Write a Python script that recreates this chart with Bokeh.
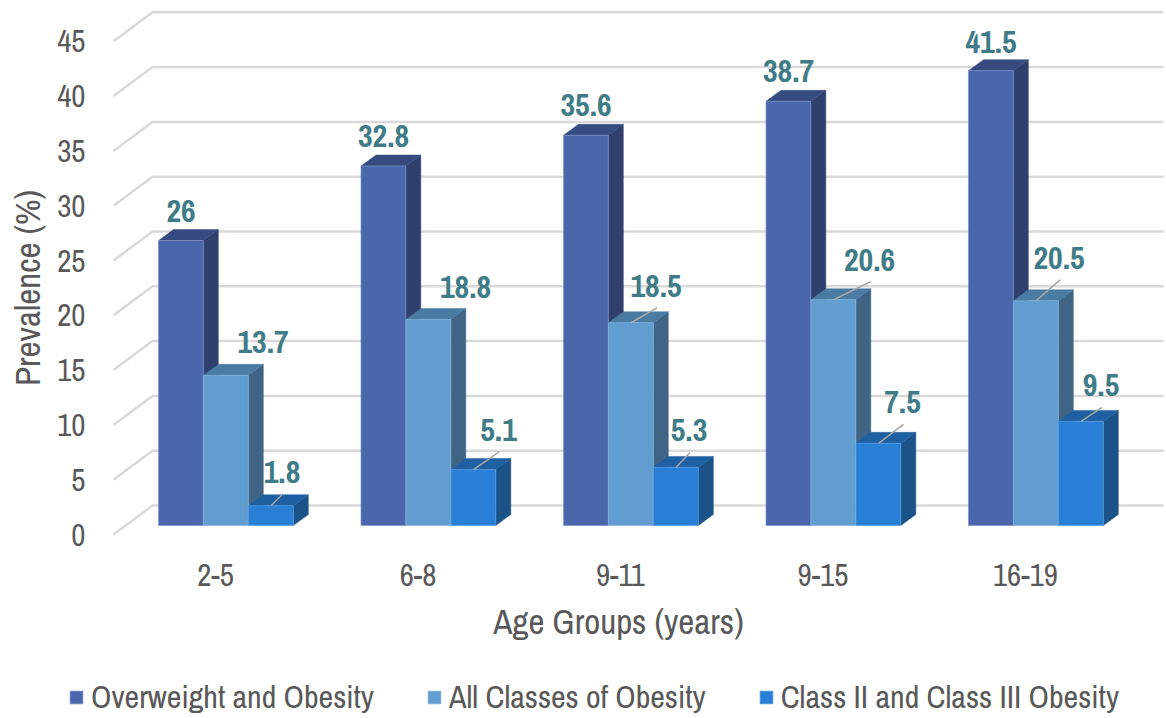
from bokeh.embed import file_html
from bokeh.models import FixedTicker, Legend, LegendItem, Range1d
from bokeh.plotting import figure
from bokeh.resources import INLINE
from bokeh.core.properties import value

# Prevalence by age group
age_groups = ["2-5", "6-8", "9-11", "9-15", "16-19"]
overweight_obesity = [26, 32.8, 35.6, 38.7, 41.5]
all_obesity = [13.7, 18.8, 18.5, 20.6, 20.5]
class_2_3_obesity = [1.8, 5.1, 5.3, 7.5, 9.5]
series_names = ["Overweight and Obesity", "All Classes of Obesity", "Class II and Class III Obesity"]
y_ticks = [0, 5, 10, 15, 20, 25, 30, 35, 40, 45]

# Screen scale of the two data axes
WIDTH, HEIGHT = 1166, 718
PX_PER_GROUP = 202.5
PX_PER_UNIT = 10.96
ZERO_X, ZERO_Y = 215, 534


def dx(px):
    return px / PX_PER_GROUP


def dy(px):
    return px / PX_PER_UNIT


# Pseudo-3D construction
BAR_W = dx(44.8)
BAR_START = dx(158 - 215)
DEPTH_X, DEPTH_Y = dx(15), dy(11)
FLOOR_Y = dy(9)
WALL_X0, WALL_X1, WALL_X2 = dx(113 - 215), dx(152 - 215), dx(1163 - 215)
WALL_RISE = dy(29)

front_colors = ["#4a66ac", "#629dd1", "#297fd5"]
top_colors = ["#364c80", "#4a7ba3", "#1f60a3"]
side_colors = ["#2f3f6e", "#3f6485", "#1b5287"]
edge_colors = ["#7f93c8", "#8ab7de", "#5a9fe4"]
TEXT = "#595959"
LABEL = "#3f7c87"
FONT = "Archivo Narrow"

# Label placement relative to the centre of each bar's top edge, in pixels
label_dx = [[0] * 5, [37, 37, 25, 36, 23], [11, 25, 13, 24, 20]]
label_dy = [[-30, -30, -30, -30, -29], [-33, -32, -37, -40, -43], [-34, -40, -37, -41, -36]]
has_leader = [[False] * 5, [False, False, True, True, True], [True] * 5]

p = figure(
    width=WIDTH, height=HEIGHT, output_backend="svg", toolbar_location=None,
    x_range=Range1d(-ZERO_X / PX_PER_GROUP, (WIDTH - ZERO_X) / PX_PER_GROUP),
    y_range=Range1d(-(HEIGHT - ZERO_Y) / PX_PER_UNIT, ZERO_Y / PX_PER_UNIT),
    min_border=0, outline_line_color=None, background_fill_color="white",
)
p.grid.visible = False

# Wall and floor lines
p.multi_line(
    xs=[[WALL_X0, WALL_X1, WALL_X2] for _ in y_ticks],
    ys=[[t, t + WALL_RISE, t + WALL_RISE] for t in y_ticks],
    line_color="#d9d9d9", line_width=2.5,
)

all_series = [overweight_obesity, all_obesity, class_2_3_obesity]
legend_items = []
for s, vals in enumerate(all_series):
    lefts = [g + BAR_START + s * dx(45) for g in range(len(vals))]
    rights = [x + BAR_W for x in lefts]
    tops = [v + FLOOR_Y for v in vals]
    p.patches(
        xs=[[r, r + DEPTH_X, r + DEPTH_X, r] for r in rights],
        ys=[[FLOOR_Y, FLOOR_Y + DEPTH_Y, t + DEPTH_Y, t] for t in tops],
        fill_color=side_colors[s], line_color=side_colors[s], line_width=0.5,
    )
    p.patches(
        xs=[[l, l + DEPTH_X, r + DEPTH_X, r] for l, r in zip(lefts, rights)],
        ys=[[t, t + DEPTH_Y, t + DEPTH_Y, t] for t in tops],
        fill_color=top_colors[s], line_color=top_colors[s], line_width=0.5,
    )
    front = p.vbar(
        x=[l + BAR_W / 2 for l in lefts], width=BAR_W, bottom=FLOOR_Y, top=tops,
        fill_color=front_colors[s], line_color=edge_colors[s], line_width=0.7,
    )
    legend_items.append(LegendItem(label=series_names[s], renderers=[front]))

# Value labels and their leader lines
for s, vals in enumerate(all_series):
    xc = [g + BAR_START + (s + 0.5) * dx(45) for g in range(len(vals))]
    tops = [v + FLOOR_Y for v in vals]
    lx = [x + dx(d) for x, d in zip(xc, label_dx[s])]
    ly = [t - dy(d) for t, d in zip(tops, label_dy[s])]
    idx = [i for i in range(len(vals)) if has_leader[s][i]]
    if idx:
        p.segment(
            x0=[xc[i] for i in idx], y0=[tops[i] for i in idx],
            x1=[lx[i] + dx(1) for i in idx], y1=[ly[i] - dy(22) for i in idx],
            line_color="#a6a6a6", line_width=1.5,
        )
    p.text(
        x=lx, y=ly, text=[f"{v:g}" for v in vals], text_color=LABEL,
        text_font=value(FONT), text_font_style="bold", text_font_size="32px",
        text_align="center", text_baseline="middle",
    )

# Axes sit inside the frame at fixed positions
yax = p.yaxis[0]
yax.fixed_location = dx(100 - 215)
yax.ticker = FixedTicker(ticks=y_ticks)
yax.bounds = (0, 45)
yax.axis_label = "Prevalence (%)"
yax.axis_label_text_font = FONT
yax.axis_label_text_font_size = "35px"
yax.axis_label_text_font_style = "normal"
yax.axis_label_text_color = TEXT
yax.axis_label_standoff = 3
yax.major_label_standoff = 9
yax.major_label_text_font = FONT
yax.major_label_text_font_size = "31px"
yax.major_label_text_color = TEXT
yax.axis_line_color = None
yax.major_tick_line_color = None
yax.minor_tick_line_color = None

xax = p.xaxis[0]
xax.fixed_location = -dy(552 - 534)
xax.ticker = FixedTicker(ticks=list(range(len(age_groups))))
xax.major_label_overrides = {i: g for i, g in enumerate(age_groups)}
xax.bounds = (-0.02, 4)
xax.axis_label = "Age Groups (years)"
xax.axis_label_text_font = FONT
xax.axis_label_text_font_size = "35px"
xax.axis_label_text_font_style = "normal"
xax.axis_label_text_color = TEXT
xax.axis_label_standoff = 9
xax.major_label_standoff = 5
xax.major_label_text_font = FONT
xax.major_label_text_font_size = "31px"
xax.major_label_text_color = TEXT
xax.axis_line_color = None
xax.major_tick_line_color = None
xax.minor_tick_line_color = None

legend = Legend(
    items=legend_items, orientation="horizontal", location=(68, 0),
    border_line_color=None, background_fill_alpha=0,
    glyph_width=16, glyph_height=16, label_standoff=7, spacing=52,
    padding=0, margin=0,
    label_text_font=FONT, label_text_font_size="32px", label_text_color=TEXT,
)
p.add_layout(legend, "center")

open("out.html", "w").write(file_html(p, INLINE))
